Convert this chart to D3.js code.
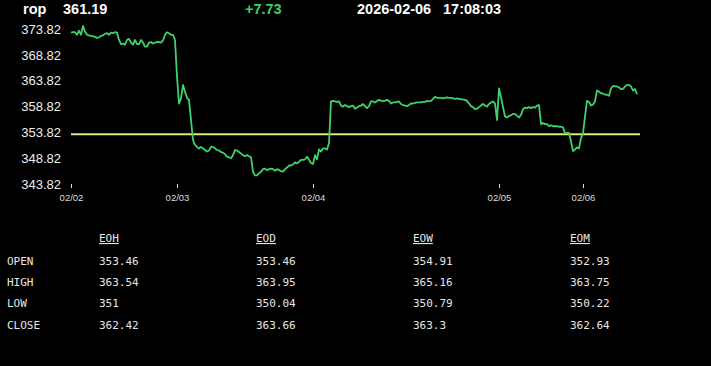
<!DOCTYPE html>
<html>
<head>
<meta charset="utf-8">
<script src="https://cdn.jsdelivr.net/npm/d3@7"></script>
<style>
  html, body { margin: 0; padding: 0; background: #000; }
  svg { display: block; }
</style>
</head>
<body>
<svg width="711" height="366"></svg>
<script>
(function() {
    'use strict';

    // header
    var symbol = "rop",
        lastPrice = "361.19",
        change = "+7.73",
        quoteDate = "2026-02-06",
        quoteTime = "17:08:03";

    // intraday prices, one per sample (trading-time index)
    var prices = [
        373.1, 373.2, 373.2, 372.7, 373.5, 372.7, 374.4, 373.3, 372.7, 372.6,
        372.5, 372.4, 372.3, 372.1, 372.2, 372.5, 372.6, 372.9, 373.0, 372.7,
        373.1, 373.0, 373.2, 373.1, 371.7, 370.9, 371.0, 370.8, 371.7, 371.9,
        371.2, 370.8, 371.7, 370.9, 370.9, 371.7, 371.2, 370.4, 370.4, 371.2,
        371.3, 371.0, 371.2, 371.3, 371.3, 371.2, 371.6, 372.7, 373.2, 373.0,
        372.7, 372.7, 371.7, 364.6, 359.4, 360.4, 363.0, 361.7, 360.5, 360.1,
        356.2, 352.3, 351.4, 351.0, 350.7, 351.0, 350.7, 350.4, 350.1, 350.3,
        351.0, 351.0, 350.7, 350.4, 350.3, 350.0, 349.9, 349.6, 349.1, 349.0,
        348.8, 349.4, 350.4, 350.3, 350.0, 349.7, 349.4, 349.2, 349.4, 349.2,
        349.0, 346.2, 345.5, 345.5, 345.9, 346.2, 346.7, 346.8, 346.5, 346.7,
        346.8, 346.7, 346.4, 346.7, 346.5, 346.3, 346.2, 346.7, 347.0, 347.4,
        347.4, 347.6, 348.0, 347.8, 348.1, 348.5, 348.5, 348.6, 349.1, 348.5,
        347.9, 347.7, 349.4, 348.6, 350.5, 350.1, 350.7, 350.7, 350.5, 351.7,
        359.8, 359.9, 359.8, 359.7, 359.8, 359.0, 358.8, 359.1, 358.9, 358.7,
        358.9, 359.0, 358.4, 358.6, 358.9, 359.0, 359.3, 358.9, 358.5, 358.9,
        359.8, 359.8, 359.6, 359.9, 360.1, 359.9, 359.9, 359.9, 360.1, 359.9,
        359.4, 359.6, 359.6, 359.7, 359.8, 359.3, 359.1, 359.0, 358.9, 359.1,
        359.4, 359.4, 359.5, 359.6, 359.6, 359.6, 359.7, 359.7, 359.9, 359.8,
        359.9, 360.3, 360.7, 360.5, 360.5, 360.5, 360.4, 360.5, 360.6, 360.5,
        360.5, 360.4, 360.3, 360.4, 360.3, 360.2, 360.2, 360.1, 359.9, 359.4,
        358.9, 358.7, 358.3, 358.4, 358.7, 359.0, 359.3, 359.0, 358.8, 359.3,
        359.6, 359.8, 359.4, 356.2, 362.3, 360.6, 358.7, 356.9, 356.7, 357.0,
        357.1, 357.4, 357.4, 357.0, 356.7, 357.2, 358.3, 358.6, 358.5, 358.7,
        358.5, 358.7, 358.6, 359.0, 359.1, 355.4, 355.6, 355.4, 355.4, 355.0,
        355.2, 355.0, 355.0, 355.0, 354.9, 354.9, 354.8, 353.6, 353.7, 353.7,
        352.0, 350.2, 350.5, 350.9, 350.7, 352.7, 353.6, 356.9, 359.9, 359.7,
        359.0, 359.2, 359.8, 361.9, 361.7, 361.4, 361.3, 361.1, 361.1, 360.9,
        362.3, 362.8, 362.7, 362.7, 362.5, 362.2, 362.2, 362.7, 363.0, 363.0,
        362.7, 361.9, 362.2, 361.2
    ];
    var refPrice = 353.46;

    var tickIndex = [0, 53, 121, 214, 256],
        tickLabels = ["02/02", "02/03", "02/04", "02/05", "02/06"],
        yTicks = [343.82, 348.82, 353.82, 358.82, 363.82, 368.82, 373.82];

    // summary table
    var tableCols = ["EOH", "EOD", "EOW", "EOM"],
        tableRows = ["OPEN", "HIGH", "LOW", "CLOSE"],
        openVals = ["353.46", "353.46", "354.91", "352.93"],
        highVals = ["363.54", "363.95", "365.16", "363.75"],
        lowVals = ["351", "350.04", "350.79", "350.22"],
        closeVals = ["362.42", "363.66", "363.3", "362.64"];

    var svg = d3.select("svg"),
        sans = "'Liberation Sans', Arial, sans-serif",
        mono = "'DejaVu Sans Mono', 'Liberation Mono', monospace";

    var x = d3.scaleLinear().domain([0, prices.length - 1]).range([71, 637]),
        y = d3.scaleLinear().domain([343.82, 373.82]).range([184, 29]);

    // header line
    var header = svg.append("g")
        .attr("font-family", sans)
        .attr("font-weight", "bold")
        .attr("font-size", "14.5px")
        .attr("fill", "#fff");
    header.append("text").attr("x", 23).attr("y", 14).text(symbol);
    header.append("text").attr("x", 63).attr("y", 14).text(lastPrice);
    header.append("text").attr("x", 245).attr("y", 14).attr("fill", "#3fcf5f").text(change);
    header.append("text").attr("x", 357).attr("y", 14).text(quoteDate);
    header.append("text").attr("x", 443).attr("y", 14).text(quoteTime);

    // y axis
    var yAxis = svg.append("g")
        .attr("transform", "translate(61,0)")
        .call(d3.axisLeft(y).tickValues(yTicks).tickSize(0).tickPadding(0).tickFormat(d3.format(".2f")));
    yAxis.select(".domain").remove();
    yAxis.selectAll("text")
        .attr("fill", "#eee")
        .attr("font-family", sans)
        .attr("font-size", "13px");

    // x axis
    var xAxis = svg.append("g")
        .attr("transform", "translate(0,184)")
        .call(d3.axisBottom(x).tickValues(tickIndex).tickSize(4).tickPadding(6)
            .tickFormat(function(d, i) { return tickLabels[i]; }));
    xAxis.select(".domain").remove();
    xAxis.selectAll("line").attr("stroke", "#ddd");
    xAxis.selectAll("text")
        .attr("fill", "#ddd")
        .attr("font-family", sans)
        .attr("font-size", "9.5px");

    // reference line
    svg.append("line")
        .attr("x1", x(0))
        .attr("x2", 640)
        .attr("y1", y(refPrice))
        .attr("y2", y(refPrice))
        .attr("stroke", "#d8ea7a")
        .attr("stroke-width", 2);

    // price line
    svg.append("path")
        .datum(prices)
        .attr("fill", "none")
        .attr("stroke", "#3fd16c")
        .attr("stroke-width", 1.8)
        .attr("stroke-linejoin", "round")
        .attr("d", d3.line()
            .x(function(d, i) { return x(i); })
            .y(function(d) { return y(d); }));

    // table
    var colX = d3.scalePoint().domain(tableCols).range([99, 570]),
        rowY = d3.scalePoint().domain(tableRows).range([264.5, 328.5]),
        rowVals = [openVals, highVals, lowVals, closeVals];

    var table = svg.append("g")
        .attr("font-family", mono)
        .attr("font-size", "11px")
        .attr("fill", "#e6e6e6");

    table.selectAll(".colhead")
        .data(tableCols)
        .enter().append("text")
        .attr("class", "colhead")
        .attr("x", function(d) { return colX(d); })
        .attr("y", 242)
        .attr("text-decoration", "underline")
        .text(function(d) { return d; });

    table.selectAll(".rowhead")
        .data(tableRows)
        .enter().append("text")
        .attr("class", "rowhead")
        .attr("x", 7)
        .attr("y", function(d) { return rowY(d); })
        .text(function(d) { return d; });

    tableRows.forEach(function(r, ri) {
        table.selectAll(".cell-" + ri)
            .data(rowVals[ri])
            .enter().append("text")
            .attr("class", "cell-" + ri)
            .attr("x", function(d, ci) { return colX(tableCols[ci]); })
            .attr("y", rowY(r))
            .text(function(d) { return d; });
    });
})();
</script>
</body>
</html>
